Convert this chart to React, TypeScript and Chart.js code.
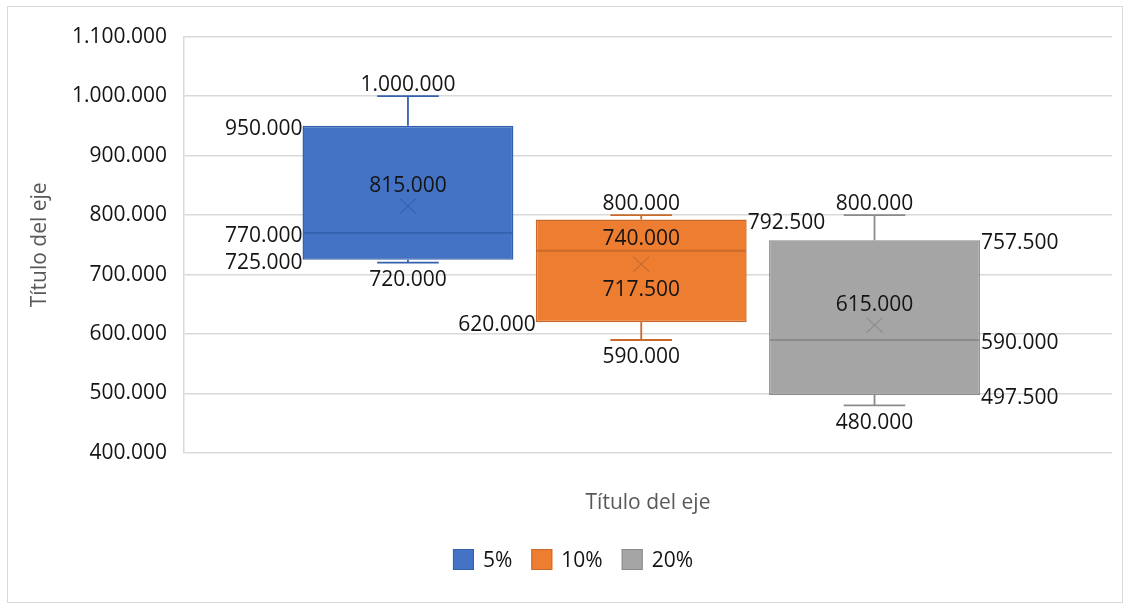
import { useEffect, useRef } from 'react';
import { Chart, registerables } from 'chart.js';

Chart.register(...registerables);

// Box & whisker statistics per series
const seriesNames = ['5%', '10%', '20%'];
const minValues = [720000, 590000, 480000];
const q1Values = [725000, 620000, 497500];
const medianValues = [770000, 740000, 590000];
const meanValues = [815000, 717500, 615000];
const q3Values = [950000, 792500, 757500];
const maxValues = [1000000, 800000, 800000];

// Value axis
const yMin = 400000;
const yMax = 1100000;
const yStep = 100000;
const axisTitle = 'Título del eje';

// Styling
const fillColors = ['#4472C4', '#ED7D31', '#A5A5A5'];
const lineColors = ['#3461AD', '#C96A2C', '#8B8B8B'];
const FONT = "'Open Sans', 'Noto Sans', sans-serif";
const TEXT = '#141414';
const TITLE = '#595959';
const GRID = '#d9d9d9';

type Placement = 'capAbove' | 'capBelow' | 'left' | 'right' | 'markAbove' | 'markBelow' | 'lineAbove';
interface LabelSet {
  max: Placement; q3: Placement; median: Placement; mean: Placement; q1: Placement; min: Placement;
}
const labelPlacement: LabelSet[] = [
  { max: 'capAbove', q3: 'left', median: 'left', mean: 'markAbove', q1: 'left', min: 'capBelow' },
  { max: 'capAbove', q3: 'right', median: 'lineAbove', mean: 'markBelow', q1: 'left', min: 'capBelow' },
  { max: 'capAbove', q3: 'right', median: 'right', mean: 'markAbove', q1: 'right', min: 'capBelow' },
];

const fmt = (v: number) =>
  Math.round(v).toString().replace(/\B(?=(\d{3})+(?!\d))/g, '.');

const boxPlotPlugin = {
  id: 'boxPlotExtras',
  afterDatasetsDraw(chart: any) {
    const ctx: CanvasRenderingContext2D = chart.ctx;
    const yScale = chart.scales.y;
    const py = (v: number) => yScale.getPixelForValue(v);

    chart.data.datasets.forEach((_ds: any, i: number) => {
      const bar: any = chart.getDatasetMeta(i).data[0];
      if (!bar) return;
      const cx = bar.x;
      const w = bar.width;
      const left = cx - w / 2;
      const right = cx + w / 2;
      const capHalf = w * 0.146;

      ctx.save();
      ctx.strokeStyle = lineColors[i];
      ctx.lineWidth = 1.8;
      ctx.lineCap = 'butt';

      const seg = (x1: number, y1: number, x2: number, y2: number) => {
        ctx.beginPath();
        ctx.moveTo(x1, y1);
        ctx.lineTo(x2, y2);
        ctx.stroke();
      };

      // whiskers and caps
      seg(cx, py(q3Values[i]), cx, py(maxValues[i]));
      seg(cx, py(q1Values[i]), cx, py(minValues[i]));
      seg(cx - capHalf, py(maxValues[i]), cx + capHalf, py(maxValues[i]));
      seg(cx - capHalf, py(minValues[i]), cx + capHalf, py(minValues[i]));

      // median line
      seg(left + 1, py(medianValues[i]), right - 1, py(medianValues[i]));

      // mean marker
      const my = py(meanValues[i]);
      ctx.lineWidth = 1.2;
      seg(cx - 8, my - 7.5, cx + 8, my + 7.5);
      seg(cx - 8, my + 7.5, cx + 8, my - 7.5);

      // value labels
      ctx.font = `21px ${FONT}`;
      ctx.fillStyle = TEXT;
      ctx.textBaseline = 'alphabetic';
      const place = labelPlacement[i];
      const draw = (value: number, kind: Placement) => {
        const yv = py(value);
        let x = cx;
        let y = yv;
        ctx.textAlign = 'center';
        switch (kind) {
          case 'capAbove': y = yv - 5; break;
          case 'capBelow': y = yv + 23.5; break;
          case 'left': ctx.textAlign = 'right'; x = left; y = yv + 9; break;
          case 'right': ctx.textAlign = 'left'; x = right + 1; y = yv + 9; break;
          case 'markAbove': y = yv - 14; break;
          case 'markBelow': y = yv + 31.5; break;
          case 'lineAbove': y = yv - 5.5; break;
        }
        ctx.fillText(fmt(value), x, y);
      };
      draw(maxValues[i], place.max);
      draw(q3Values[i], place.q3);
      draw(medianValues[i], place.median);
      draw(meanValues[i], place.mean);
      draw(q1Values[i], place.q1);
      draw(minValues[i], place.min);
      ctx.restore();
    });
  },
  afterDraw(chart: any) {
    // legend row
    const ctx: CanvasRenderingContext2D = chart.ctx;
    ctx.save();
    ctx.font = `21px ${FONT}`;
    const box = 21;
    const textGap = 9;
    const itemGap = 19;
    const widths = seriesNames.map((n) => box + textGap + ctx.measureText(n).width);
    const total = widths.reduce((a, b) => a + b, 0) + itemGap * (seriesNames.length - 1);
    let x = 565 - total / 2;
    const cy = 552.5;
    seriesNames.forEach((name, i) => {
      ctx.fillStyle = fillColors[i];
      ctx.fillRect(x, cy - box / 2, box, box);
      ctx.strokeStyle = lineColors[i];
      ctx.lineWidth = 1;
      ctx.strokeRect(x + 0.5, cy - box / 2 + 0.5, box - 1, box - 1);
      ctx.fillStyle = TEXT;
      ctx.textAlign = 'left';
      ctx.textBaseline = 'alphabetic';
      ctx.fillText(name, x + box + textGap, cy + 7.5);
      x += widths[i] + itemGap;
    });
    ctx.restore();
  },
};

export default function App() {
  const canvasRef = useRef<HTMLCanvasElement | null>(null);

  useEffect(() => {
    if (!canvasRef.current) return;
    const chart = new Chart(canvasRef.current, {
      type: 'bar',
      data: {
        datasets: seriesNames.map((name, i) => ({
          label: name,
          data: [{ x: i + 1, y: [q1Values[i], q3Values[i]] }] as any,
          backgroundColor: fillColors[i],
          borderColor: lineColors[i],
          borderWidth: 1.5,
          borderSkipped: false,
          grouped: false,
          barPercentage: 0.904,
          categoryPercentage: 1,
        })),
      },
      options: {
        responsive: false,
        animation: false,
        layout: { padding: { top: 27, right: 10, left: 0, bottom: 0 } },
        plugins: {
          legend: { display: false },
          tooltip: { enabled: false },
        },
        scales: {
          x: {
            type: 'linear',
            min: 0.04,
            max: 4.018,
            offset: false,
            grid: { display: false, offset: false },
            border: { display: false },
            ticks: { display: false, stepSize: 1, includeBounds: false },
            title: {
              display: true,
              text: axisTitle,
              color: TITLE,
              font: { family: FONT, size: 21 },
              padding: { top: 0, bottom: 86 },
            },
            afterFit: (scale: any) => { scale.height = 149; },
          },
          y: {
            min: yMin,
            max: yMax,
            ticks: {
              stepSize: yStep,
              color: TEXT,
              padding: 17,
              font: { family: FONT, size: 21 },
              callback: (v: any) => fmt(Number(v)),
            },
            grid: { color: GRID, lineWidth: 1.5, drawTicks: false },
            border: { display: true, color: GRID, width: 1.5 },
            title: {
              display: true,
              text: axisTitle,
              color: TITLE,
              font: { family: FONT, size: 21 },
              padding: { top: 19.5, bottom: 0 },
            },
            afterFit: (scale: any) => { scale.width = 176; },
          },
        },
      } as any,
      plugins: [boxPlotPlugin],
    });
    return () => chart.destroy();
  }, []);

  return (
    <div
      style={{
        position: 'absolute',
        left: 7,
        top: 6,
        width: 1114,
        height: 595,
        border: `1px solid ${GRID}`,
        background: '#fff',
      }}
    >
      <canvas ref={canvasRef} width={1114} height={595} style={{ display: 'block', width: 1114, height: 595 }} />
    </div>
  );
}
